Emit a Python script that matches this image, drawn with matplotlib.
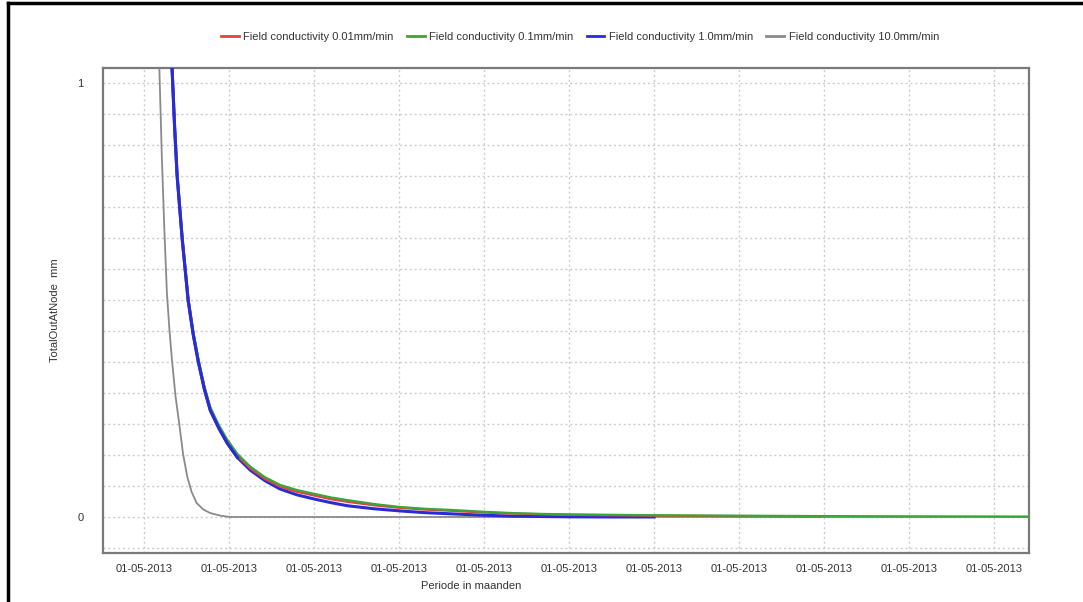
"""Outflow at node for four field conductivities."""

import matplotlib

matplotlib.use("Agg")
import matplotlib.pyplot as plt
from matplotlib.lines import Line2D
from matplotlib.ticker import MultipleLocator

plt.rcParams["font.family"] = ["Liberation Sans", "DejaVu Sans"]

# x is measured in tick intervals, each one labelled with the same date
tick_positions = list(range(11))
tick_labels = ["01-05-2013"] * 11

series_names = [
    "Field conductivity 0.01mm/min",
    "Field conductivity 0.1mm/min",
    "Field conductivity 1.0mm/min",
    "Field conductivity 10.0mm/min",
]
series_colors = ["#e8403a", "#3aa63a", "#2b2bd6", "#8a8a8a"]

red_x = [0.33, 0.36, 0.39, 0.45, 0.52, 0.58, 0.64, 0.71, 0.78, 0.88, 0.98,
         1.10, 1.25, 1.42, 1.6, 1.8, 2.01, 2.2, 2.39, 2.7, 3.01, 3.3, 3.64,
         4.0, 4.34, 4.7, 5.0, 5.5, 6.0, 7.0, 7.95]
red_y = [1.037, 0.902, 0.788, 0.642, 0.501, 0.422, 0.359, 0.297, 0.248,
         0.207, 0.174, 0.141, 0.112, 0.088, 0.070, 0.058, 0.049, 0.041,
         0.035, 0.027, 0.021, 0.017, 0.014, 0.010, 0.008, 0.006, 0.005,
         0.004, 0.003, 0.002, 0.001]

green_x = [0.33, 0.36, 0.39, 0.45, 0.52, 0.58, 0.64, 0.71, 0.78, 0.88, 0.98,
           1.10, 1.25, 1.42, 1.6, 1.8, 2.01, 2.2, 2.39, 2.7, 3.01, 3.3, 3.64,
           4.0, 4.34, 4.7, 5.0, 5.5, 6.0, 7.0, 8.0, 9.0, 10.41]
green_y = [1.04, 0.905, 0.792, 0.645, 0.505, 0.426, 0.364, 0.302, 0.253,
           0.212, 0.178, 0.145, 0.116, 0.092, 0.074, 0.062, 0.053, 0.045,
           0.039, 0.030, 0.023, 0.019, 0.016, 0.012, 0.009, 0.007, 0.006,
           0.005, 0.004, 0.003, 0.002, 0.0015, 0.001]

blue_x = [0.33, 0.36, 0.39, 0.45, 0.52, 0.58, 0.64, 0.71, 0.78, 0.88, 0.98,
          1.10, 1.25, 1.42, 1.6, 1.8, 2.01, 2.2, 2.39, 2.7, 3.01, 3.3, 3.64,
          4.0, 4.34, 4.7, 5.0, 5.5, 6.0]
blue_y = [1.035, 0.90, 0.786, 0.64, 0.499, 0.42, 0.357, 0.295, 0.246, 0.205,
          0.170, 0.137, 0.108, 0.084, 0.0645, 0.051, 0.041, 0.033, 0.026,
          0.019, 0.014, 0.010, 0.007, 0.004, 0.002, 0.001, 0.0004, 0.0, 0.0]

gray_x = [0.18, 0.21, 0.24, 0.27, 0.30, 0.33, 0.37, 0.42, 0.46, 0.51, 0.56,
          0.62, 0.70, 0.78, 0.90, 1.01, 10.41]
gray_y = [1.04, 0.83, 0.66, 0.515, 0.43, 0.36, 0.28, 0.207, 0.145, 0.092,
          0.058, 0.032, 0.017, 0.009, 0.003, 0.0, 0.0]

figure = plt.figure(figsize=(10.83, 6.02), dpi=100)
axes = figure.add_axes([103 / 1083, 1 - 553 / 602, 926 / 1083, 485 / 602])

axes.plot(gray_x, gray_y, color=series_colors[3], linewidth=1.3, zorder=3)
axes.plot(blue_x, blue_y, color=series_colors[2], linewidth=2.2, zorder=4)
axes.plot(red_x, red_y, color=series_colors[0], linewidth=1.6, zorder=5)
axes.plot(green_x, green_y, color=series_colors[1], linewidth=1.6, zorder=6)
# the 1.0 curve sits on top while the curves still overlap
axes.plot(blue_x[:12], blue_y[:12], color=series_colors[2], linewidth=2.2,
          zorder=7)

axes.set_xlim(-0.482, 10.41)
axes.set_ylim(-0.083, 1.0346)

axes.set_xticks(tick_positions)
axes.set_xticklabels(tick_labels)
axes.set_yticks([0, 1])
axes.set_yticklabels(["0", "1"])
axes.yaxis.set_minor_locator(MultipleLocator(1 / 14))
axes.tick_params(axis="both", which="both", length=0, labelsize=8,
                 labelcolor="#333333")
axes.tick_params(axis="x", pad=8)
axes.tick_params(axis="y", pad=14)

grid_style = dict(color="#cdcdcd", linewidth=1.0, linestyle=(0, (1.5, 2)))
axes.grid(True, which="major", axis="x", **grid_style)
axes.grid(True, which="both", axis="y", **grid_style)
axes.set_axisbelow(True)

for spine in axes.spines.values():
    spine.set_color("#7a7a7a")
    spine.set_linewidth(1.6)

axes.set_xlabel("Periode in maanden", fontsize=8, color="#333333")
axes.xaxis.set_label_coords(0.398, -0.058)
axes.set_ylabel("TotalOutAtNode  mm", fontsize=8, color="#333333")
axes.yaxis.set_label_coords(-0.046, 0.5)

handles = [Line2D([], [], color=c, linewidth=2.0) for c in series_colors]
figure.legend(
    handles,
    series_names,
    loc="center",
    bbox_to_anchor=(580 / 1083, 1 - 37 / 602),
    ncol=4,
    frameon=False,
    fontsize=8,
    labelcolor="#333333",
    handlelength=1.6,
    handletextpad=0.4,
    columnspacing=1.2,
)

# partial outer frame (top and left edges) of the original screenshot
figure.add_artist(Line2D([8 / 1083, 1.0], [1 - 3 / 602, 1 - 3 / 602],
                         transform=figure.transFigure, color="black",
                         linewidth=2.5))
figure.add_artist(Line2D([8 / 1083, 8 / 1083], [0.0, 1 - 3 / 602],
                         transform=figure.transFigure, color="black",
                         linewidth=2.5))

figure.savefig("out.png", dpi=100)
